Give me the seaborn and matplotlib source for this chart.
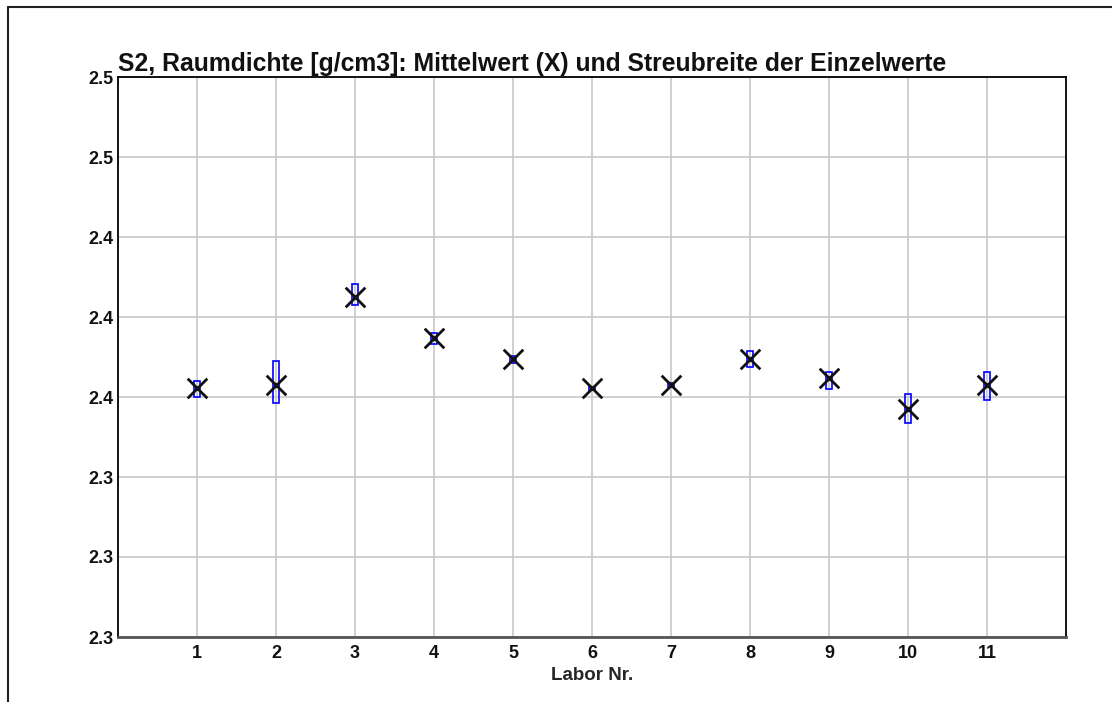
import matplotlib
matplotlib.use("Agg")
import matplotlib.pyplot as plt
from matplotlib.lines import Line2D
import seaborn as sns
import pandas as pd

# Laboratory numbers and density results [g/cm3]
labs = [1, 2, 3, 4, 5, 6, 7, 8, 9, 10, 11]
mean_values = [2.3777, 2.3788, 2.4063, 2.3933, 2.3868, 2.3777, 2.3788, 2.3868, 2.3808, 2.3713, 2.3788]
min_values = [2.3749, 2.3732, 2.4038, 2.3916, 2.3855, 2.3772, 2.3782, 2.3845, 2.3774, 2.3670, 2.3741]
max_values = [2.3801, 2.3863, 2.4103, 2.3951, 2.3878, 2.3782, 2.3793, 2.3894, 2.3829, 2.3759, 2.3829]

y_ticks = [2.300, 2.325, 2.350, 2.375, 2.400, 2.425, 2.450, 2.475]
y_tick_labels = ["2.3", "2.3", "2.3", "2.4", "2.4", "2.4", "2.5", "2.5"]
x_ticks = labs
x_tick_labels = [str(v) for v in labs]

df = pd.DataFrame({"lab": labs, "mean": mean_values, "lo": min_values, "hi": max_values})

sns.set_theme(style="white")
plt.rcParams["font.family"] = ["Liberation Sans", "DejaVu Sans"]

fig = plt.figure(figsize=(11.12, 7.02), dpi=100)
ax = fig.add_axes([118 / 1112, 1 - 637 / 702, (1066 - 118) / 1112, (637 - 77) / 702])

ax.set_xlim(0, 12)
ax.set_ylim(2.300, 2.475)
ax.set_xticks(x_ticks)
ax.set_xticklabels(x_tick_labels, fontsize=13, fontweight="bold")
ax.set_yticks(y_ticks)
ax.set_yticklabels(y_tick_labels, fontsize=13, fontweight="bold")
ax.tick_params(axis="y", length=0, pad=3, colors="#111111")
ax.tick_params(axis="x", length=0, pad=6, colors="#111111")
ax.grid(True, color="#c8c8c8", linewidth=1.2)
ax.set_axisbelow(True)

# Spread of individual values as open rectangles
ax.bar(df["lab"], df["hi"] - df["lo"], bottom=df["lo"], width=0.085,
       fill=False, edgecolor="#0000ff", linewidth=1.2, zorder=3)

# Mean values as X markers
sns.scatterplot(data=df, x="lab", y="mean", marker="x", s=200, color="#111111",
                linewidth=2.0, ax=ax, zorder=4, legend=False)

ax.set_xlabel("Labor Nr.", fontsize=13.5, fontweight="bold", labelpad=3)
ax.set_ylabel("")
ax.set_title("S2, Raumdichte [g/cm3]: Mittelwert (X) und Streubreite der Einzelwerte",
             fontsize=17.8, fontweight="bold", loc="left", pad=4, color="#111111")

for side in ["left", "top", "right"]:
    ax.spines[side].set_color("#000000")
    ax.spines[side].set_linewidth(1.3)
ax.spines["bottom"].set_color("#555555")
ax.spines["bottom"].set_linewidth(2)

# Outer frame at the top and left of the figure
fig.add_artist(Line2D([8 / 1112, 1.0], [1 - 7 / 702, 1 - 7 / 702], color="#222222", linewidth=1.5))
fig.add_artist(Line2D([8 / 1112, 8 / 1112], [0.0, 1 - 7 / 702], color="#222222", linewidth=1.5))

fig.savefig("out.png", dpi=100, facecolor="white")
